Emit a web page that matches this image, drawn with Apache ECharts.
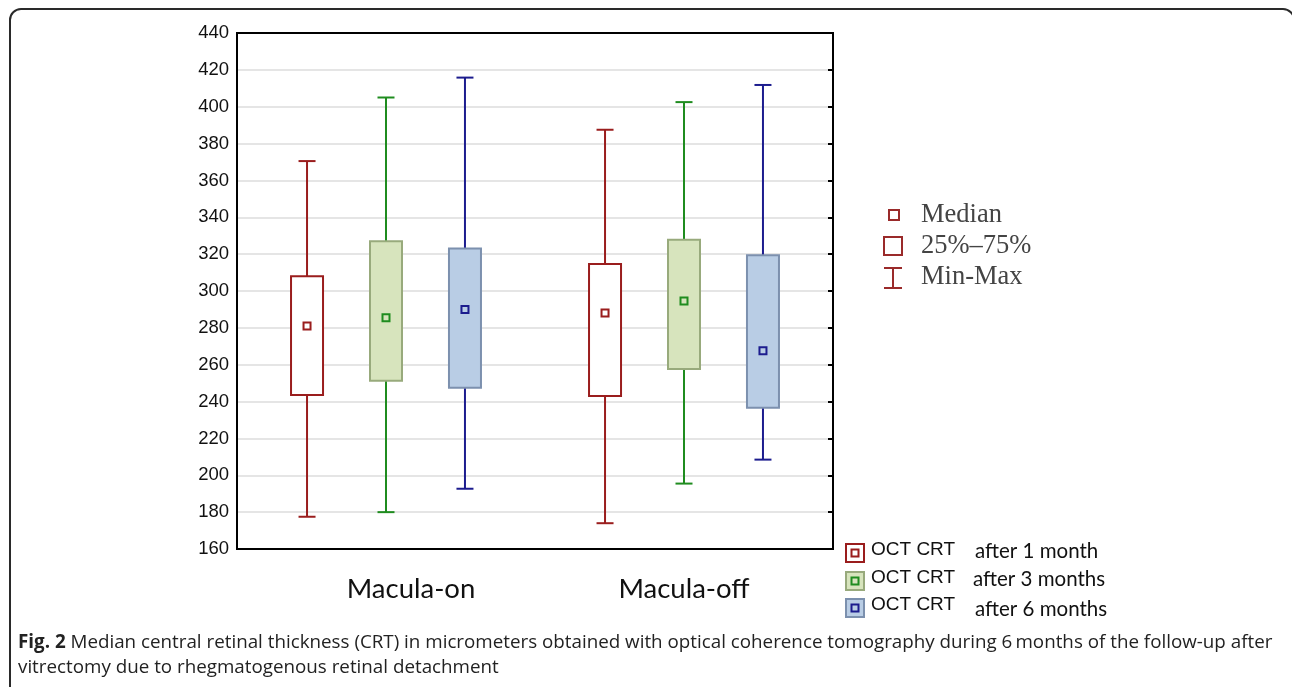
<!DOCTYPE html>
<html>
<head>
<meta charset="utf-8">
<script src="https://cdn.jsdelivr.net/npm/echarts@6/dist/echarts.min.js"></script>
<style>
  html, body { margin: 0; padding: 0; background: #fff; }
  #wrap { position: relative; width: 1292px; height: 687px; overflow: hidden; }
  #frame { position: absolute; left: 9px; top: 8px; width: 1286px; height: 700px; border: 2px solid #2a2a2a; border-radius: 12px; box-sizing: border-box; }
  #chart { position: absolute; left: 0; top: 0; width: 1292px; height: 687px; }
  #caption { position: absolute; left: 18px; top: 629px; width: 1272px; white-space: nowrap; font-family: "Open Sans", sans-serif; font-size: 18.8px; line-height: 25px; color: #222; }
  #caption b { font-weight: 700; }
</style>
</head>
<body>
<div id="wrap">
  <div id="frame"></div>
  <div id="chart"></div>
  <div id="caption"><b>Fig. 2</b> Median central retinal thickness (CRT) in micrometers obtained with optical coherence tomography during 6&#8201;months of the follow-up after<br>vitrectomy due to rhegmatogenous retinal detachment</div>
</div>
<script>
// groups on the x axis
const categories = ['Macula-on', 'Macula-off'];
const yTicks = [160, 180, 200, 220, 240, 260, 280, 300, 320, 340, 360, 380, 400, 420, 440];

// OCT CRT values per group: [Macula-on, Macula-off]
const month1Min = [177.5, 174];
const month1Q1 = [243.6, 243];
const month1Median = [281, 288];
const month1Q3 = [308, 314.6];
const month1Max = [370.5, 387.5];

const month3Min = [180, 195.5];
const month3Q1 = [251.3, 257.7];
const month3Median = [285.5, 294.6];
const month3Q3 = [327, 327.8];
const month3Max = [405, 402.5];

const month6Min = [192.7, 208.5];
const month6Q1 = [247.5, 236.7];
const month6Median = [290, 267.6];
const month6Q3 = [323, 319.4];
const month6Max = [415.8, 411.8];

const seriesNames = ['after 1 month', 'after 3 months', 'after 6 months'];

function rows(mn, q1, med, q3, mx) {
    return categories.map((c, i) => [i, mn[i], q1[i], med[i], q3[i], mx[i]]);
}

const styles = [
    { line: '#9a1d1d', fill: '#ffffff', border: '#9a1d1d', off: -0.265 },
    { line: '#1f8c1f', fill: '#d7e4bd', border: '#98aa7c', off: 0 },
    { line: '#1c1c8e', fill: '#b9cde5', border: '#7c90ae', off: 0.265 }
];

function boxRender(st) {
    return function (params, api) {
        const c = api.value(0);
        const band = api.size([1, 0])[0];
        const xc = api.coord([c, api.value(1)])[0] + st.off * band;
        const y = v => api.coord([c, v])[1];
        const yMin = y(api.value(1)), yQ1 = y(api.value(2)), yMed = y(api.value(3));
        const yQ3 = y(api.value(4)), yMax = y(api.value(5));
        const hw = 16, cap = 8.5;
        const ls = { stroke: st.line, lineWidth: 2 };
        return {
            type: 'group',
            children: [
                { type: 'line', shape: { x1: xc, y1: yMax, x2: xc, y2: yMin }, style: ls },
                { type: 'line', shape: { x1: xc - cap, y1: yMax, x2: xc + cap, y2: yMax }, style: ls },
                { type: 'line', shape: { x1: xc - cap, y1: yMin, x2: xc + cap, y2: yMin }, style: ls },
                { type: 'rect', shape: { x: xc - hw, y: yQ3, width: hw * 2, height: yQ1 - yQ3 },
                  style: { fill: st.fill, stroke: st.border, lineWidth: 2 } },
                { type: 'rect', shape: { x: xc - 3.5, y: yMed - 3.5, width: 7, height: 7 },
                  style: { fill: st.fill, stroke: st.line, lineWidth: 2 } }
            ]
        };
    };
}

const allData = [
    rows(month1Min, month1Q1, month1Median, month1Q3, month1Max),
    rows(month3Min, month3Q1, month3Median, month3Q3, month3Max),
    rows(month6Min, month6Q1, month6Median, month6Q3, month6Max)
];

const chart = echarts.init(document.getElementById('chart'), null, { renderer: 'canvas' });

// legend graphics
const keyRed = '#9a2a2a';
const graphics = [];
const legTop = [214, 245, 276];
const legText = ['Median', '25%\u201375%', 'Min-Max'];
legText.forEach((t, i) => {
    graphics.push({ type: 'text', left: 921, top: legTop[i] - 12,
        style: { text: t, font: '26.5px "Liberation Serif", serif', fill: '#444' } });
});
graphics.push({ type: 'rect', shape: { x: 889, y: 210, width: 10, height: 10 }, style: { fill: '#fff', stroke: keyRed, lineWidth: 2 } });
graphics.push({ type: 'rect', shape: { x: 884, y: 237, width: 18, height: 18 }, style: { fill: '#fff', stroke: keyRed, lineWidth: 2 } });
graphics.push({ type: 'line', shape: { x1: 893, y1: 268, x2: 893, y2: 288 }, style: { stroke: keyRed, lineWidth: 2 } });
graphics.push({ type: 'line', shape: { x1: 884, y1: 268, x2: 902, y2: 268 }, style: { stroke: keyRed, lineWidth: 2 } });
graphics.push({ type: 'line', shape: { x1: 884, y1: 288, x2: 902, y2: 288 }, style: { stroke: keyRed, lineWidth: 2 } });

const key2Y = [553, 581, 608];
const key2TextY = [555, 583, 613];
seriesNames.forEach((n, i) => {
    const st = styles[i];
    graphics.push({ type: 'rect', shape: { x: 846, y: key2Y[i] - 9, width: 18, height: 18 },
        style: { fill: st.fill, stroke: st.border, lineWidth: 2 } });
    graphics.push({ type: 'rect', shape: { x: 851.5, y: key2Y[i] - 3.5, width: 7, height: 7 },
        style: { fill: st.fill, stroke: st.line, lineWidth: 2 } });
    graphics.push({ type: 'text', left: 871, top: key2Y[i] - 13,
        style: { text: 'OCT CRT', font: '19px "Liberation Sans", sans-serif', fill: '#111' } });
    graphics.push({ type: 'text', left: i === 1 ? 973 : 975, top: key2TextY[i] - 14,
        style: { text: n, font: '20.5px Lato, sans-serif', fill: '#111' } });
});

chart.setOption({
    animation: false,
    backgroundColor: 'transparent',
    grid: { left: 237, top: 33, right: 459, bottom: 138, show: true, borderColor: '#000', borderWidth: 2 },
    xAxis: [
        {
            type: 'category', data: categories, position: 'bottom',
            axisLine: { lineStyle: { color: '#000', width: 2 } },
            axisTick: { inside: true, alignWithLabel: true, length: 6, lineStyle: { color: '#000', width: 2 } },
            axisLabel: {
                margin: 26, color: '#111', fontFamily: 'Lato, sans-serif', fontSize: 27.5,
                formatter: v => v === 'Macula-on' ? '{on|' + v + '}' : v,
                rich: { on: { padding: [0, 0, 0, 50], fontFamily: 'Lato, sans-serif', fontSize: 27.5, color: '#111' } }
            },
            splitLine: { show: false }
        },
        {
            type: 'category', data: categories, position: 'top',
            axisLine: { lineStyle: { color: '#000', width: 2 } },
            axisTick: { inside: true, alignWithLabel: true, length: 6, lineStyle: { color: '#000', width: 2 } },
            axisLabel: { show: false }, splitLine: { show: false }
        }
    ],
    yAxis: [
        {
            type: 'value', min: yTicks[0], max: yTicks[yTicks.length - 1], interval: 20,
            axisLine: { show: true, lineStyle: { color: '#000', width: 2 } },
            axisTick: { show: false },
            axisLabel: { margin: 8, color: '#111', fontFamily: '"Liberation Sans", Arial, sans-serif', fontSize: 18.5 },
            splitLine: { lineStyle: { color: '#dcdcdc', width: 1.5 } }
        },
        {
            type: 'value', position: 'right', min: yTicks[0], max: yTicks[yTicks.length - 1], interval: 20,
            axisLine: { show: true, lineStyle: { color: '#000', width: 2 } },
            axisTick: { show: true, inside: true, length: 5, lineStyle: { color: '#000', width: 2 } },
            axisLabel: { show: false }, splitLine: { show: false }
        }
    ],
    series: allData.map((d, i) => ({
        name: seriesNames[i], type: 'custom', xAxisIndex: 0, yAxisIndex: 0,
        renderItem: boxRender(styles[i]),
        encode: { x: 0, y: [1, 2, 3, 4, 5] },
        data: d, z: 3 + i
    })),
    graphic: graphics
});
window.addEventListener('resize', () => chart.resize());
</script>
</body>
</html>
